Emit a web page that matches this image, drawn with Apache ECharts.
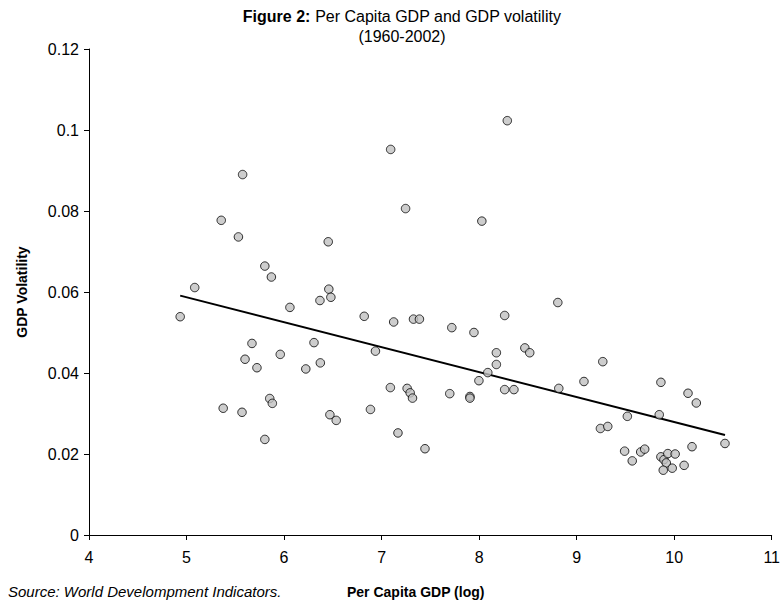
<!DOCTYPE html>
<html>
<head>
<meta charset="utf-8">
<title>Per Capita GDP and GDP volatility</title>
<script src="https://cdn.jsdelivr.net/npm/echarts@6/dist/echarts.min.js"></script>
<style>
  html, body { margin: 0; padding: 0; background: #fff; }
  #chart { width: 783px; height: 604px; }
</style>
</head>
<body>
<div id="chart"></div>
<script>
// Log per capita GDP of each country (x) and its GDP volatility (y), 1960-2002
const logGdp = [
  4.935, 5.084, 5.356, 5.376, 5.532, 5.569, 5.575, 5.600, 5.671, 5.722,
  5.803, 5.803, 5.853, 5.870, 5.880, 5.961, 6.060, 6.223, 6.307, 6.368,
  6.372, 6.453, 6.459, 6.480, 6.470, 6.535, 6.822, 6.886, 6.937, 7.090,
  7.093, 7.124, 7.168, 7.246, 7.262, 7.293, 7.317, 7.327, 7.388, 7.445,
  7.699, 7.720, 7.906, 7.906, 7.947, 7.998, 8.028, 8.089, 8.177, 8.177,
  8.262, 8.262, 8.289, 8.357, 8.469, 8.519, 8.807, 8.817, 9.075, 9.244,
  9.268, 9.319, 9.492, 9.520, 9.570, 9.657, 9.698, 9.847, 9.864, 9.864,
  9.895, 9.919, 9.888, 9.935, 9.980, 10.010, 10.102, 10.142, 10.183, 10.227,
  10.521
];
const volatility = [
  0.0539, 0.0611, 0.0777, 0.0313, 0.0736, 0.0303, 0.0890, 0.0434, 0.0473, 0.0413,
  0.0664, 0.0236, 0.0337, 0.0637, 0.0325, 0.0446, 0.0562, 0.0410, 0.0475, 0.0579,
  0.0425, 0.0724, 0.0607, 0.0587, 0.0297, 0.0283, 0.0540, 0.0310, 0.0454, 0.0364,
  0.0952, 0.0526, 0.0252, 0.0806, 0.0362, 0.0351, 0.0338, 0.0533, 0.0533, 0.0213,
  0.0349, 0.0512, 0.0342, 0.0338, 0.0500, 0.0381, 0.0775, 0.0401, 0.0450, 0.0421,
  0.0542, 0.0359, 0.1023, 0.0359, 0.0462, 0.0450, 0.0574, 0.0362, 0.0379, 0.0263,
  0.0428, 0.0268, 0.0207, 0.0293, 0.0183, 0.0205, 0.0212, 0.0297, 0.0377, 0.0193,
  0.0186, 0.0178, 0.0160, 0.0201, 0.0165, 0.0200, 0.0172, 0.0350, 0.0218, 0.0326,
  0.0226
];
const xTicks = [4, 5, 6, 7, 8, 9, 10, 11];
const yTicks = [0, 0.02, 0.04, 0.06, 0.08, 0.1, 0.12];

const points = logGdp.map((x, i) => [x, volatility[i]]);

// Ordinary least squares trend line over the observed range
const n = points.length;
const mx = logGdp.reduce((a, b) => a + b, 0) / n;
const my = volatility.reduce((a, b) => a + b, 0) / n;
let sxy = 0, sxx = 0;
for (let i = 0; i < n; i++) {
  sxy += (logGdp[i] - mx) * (volatility[i] - my);
  sxx += (logGdp[i] - mx) * (logGdp[i] - mx);
}
const slope = sxy / sxx;
const intercept = my - slope * mx;
const xLo = Math.min(...logGdp), xHi = Math.max(...logGdp);
const trend = [[xLo, intercept + slope * xLo], [xHi, intercept + slope * xHi]];

const FONT = 'Liberation Sans, Arial, sans-serif';
const chart = echarts.init(document.getElementById('chart'), null, { renderer: 'svg' });

chart.setOption({
  backgroundColor: '#ffffff',
  animation: false,
  title: {
    text: '{b|Figure 2:} Per Capita GDP and GDP volatility\n(1960-2002)',
    left: 397,
    textAlign: 'center',
    top: 1,
    textStyle: {
      fontFamily: FONT,
      fontSize: 16,
      fontWeight: 'normal',
      color: '#000',
      lineHeight: 20,
      rich: {
        b: { fontFamily: FONT, fontSize: 16, fontWeight: 'bold', color: '#000', lineHeight: 20 }
      }
    }
  },
  graphic: [
    {
      type: 'text',
      left: 8,
      top: 584,
      style: {
        text: 'Source: World Develompment Indicators.',
        font: 'italic 15px ' + FONT,
        fill: '#000'
      }
    },
    {
      type: 'text',
      left: 347,
      top: 585,
      style: {
        text: 'Per Capita GDP (log)',
        font: 'bold 14px ' + FONT,
        fill: '#000'
      }
    }
  ],
  grid: { left: 89, right: 5, top: 49, bottom: 69, containLabel: false },
  xAxis: {
    type: 'value',
    min: xTicks[0],
    max: xTicks[xTicks.length - 1],
    interval: 1,
    axisLine: { show: true, lineStyle: { color: '#000', width: 1 } },
    axisTick: { show: true, inside: false, length: 5, lineStyle: { color: '#000' } },
    axisLabel: { color: '#000', fontFamily: FONT, fontSize: 16, margin: 14,
      showMinLabel: true, showMaxLabel: true },
    splitLine: { show: false }
  },
  yAxis: {
    type: 'value',
    min: yTicks[0],
    max: yTicks[yTicks.length - 1],
    interval: 0.02,
    name: 'GDP Volatility',
    nameLocation: 'middle',
    nameRotate: 90,
    nameGap: 60,
    nameTextStyle: { color: '#000', fontFamily: FONT, fontSize: 14, fontWeight: 'bold' },
    axisLine: { show: true, lineStyle: { color: '#000', width: 1 } },
    axisTick: { show: true, inside: false, length: 5, lineStyle: { color: '#000' } },
    axisLabel: { color: '#000', fontFamily: FONT, fontSize: 16, margin: 10,
      formatter: v => String(+v.toFixed(2)) },
    splitLine: { show: false }
  },
  series: [
    {
      name: 'Countries',
      type: 'scatter',
      data: points,
      symbol: 'circle',
      symbolSize: 8.5,
      itemStyle: { color: '#c0c0c0', borderColor: '#000', borderWidth: 1 },
      z: 3
    },
    {
      name: 'Trend',
      type: 'line',
      data: trend,
      symbol: 'none',
      lineStyle: { color: '#000', width: 2 },
      z: 2
    }
  ]
});
</script>
</body>
</html>
